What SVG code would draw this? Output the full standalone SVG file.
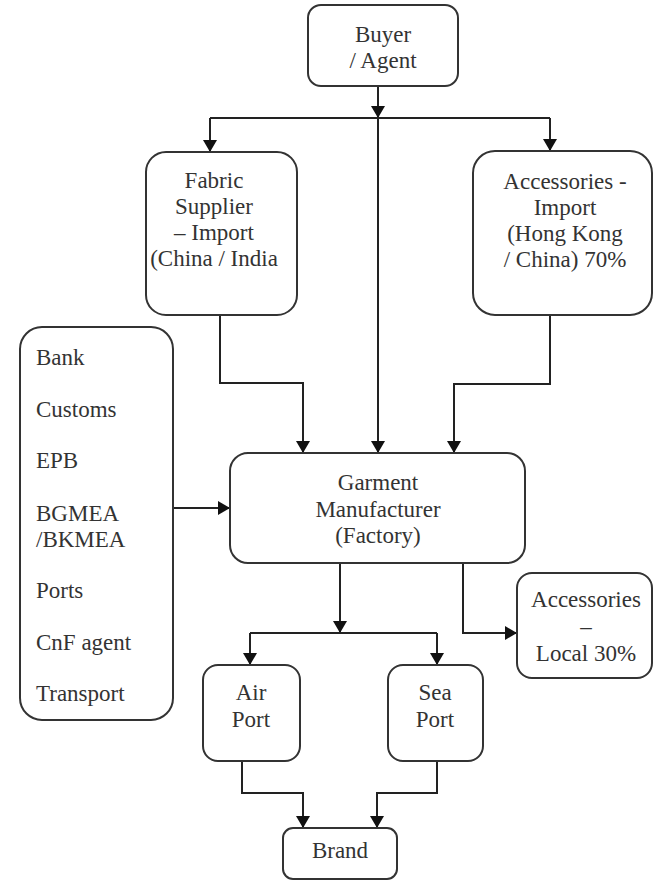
<svg xmlns="http://www.w3.org/2000/svg" width="654" height="882" viewBox="0 0 654 882">
<defs>
<marker id="arr" markerUnits="userSpaceOnUse" markerWidth="12" markerHeight="14" viewBox="0 0 12 14" refX="12" refY="7" orient="auto">
<path d="M0,0 L12,7 L0,14 Z" fill="#111"/>
</marker>
<style>
.box{fill:#fff;stroke:#333;stroke-width:2}
.t{font-family:"Liberation Serif","Times New Roman",serif;font-size:23px;fill:#333;text-anchor:middle}
.l{font-family:"Liberation Serif","Times New Roman",serif;font-size:23px;fill:#333}
.c{fill:none;stroke:#222;stroke-width:2}
</style>
</defs>
<rect width="654" height="882" fill="#fff"/>
<g id="connectors">
<path class="c" d="M378,86 V118" marker-end="url(#arr)"/>
<path class="c" d="M210,118 H550"/>
<path class="c" d="M210,118 V152" marker-end="url(#arr)"/>
<path class="c" d="M550,118 V151" marker-end="url(#arr)"/>
<path class="c" d="M378,118 V453" marker-end="url(#arr)"/>
<path class="c" d="M220,315 V383 H303 V453" marker-end="url(#arr)"/>
<path class="c" d="M550,315 V384 H454 V453" marker-end="url(#arr)"/>
<path class="c" d="M173,508 H230" marker-end="url(#arr)"/>
<path class="c" d="M340,563 V633" marker-end="url(#arr)"/>
<path class="c" d="M250,633 H437"/>
<path class="c" d="M250,633 V665" marker-end="url(#arr)"/>
<path class="c" d="M437,633 V665" marker-end="url(#arr)"/>
<path class="c" d="M463,563 V633 H517" marker-end="url(#arr)"/>
<path class="c" d="M242,761 V793 H303 V828" marker-end="url(#arr)"/>
<path class="c" d="M437,761 V793 H377 V828" marker-end="url(#arr)"/>
</g>
<g id="buyer">
<rect class="box" x="308" y="5" width="150" height="81" rx="13"/>
<text class="t" x="383" y="42">Buyer</text>
<text class="t" x="383" y="68">/ Agent</text>
</g>
<g id="fabric">
<rect class="box" x="146" y="152" width="151" height="163" rx="20"/>
<text class="t" x="214" y="188">Fabric</text>
<text class="t" x="214" y="214">Supplier</text>
<text class="t" x="214" y="240">– Import</text>
<text class="t" x="214" y="266">(China / India</text>
</g>
<g id="acc-import">
<rect class="box" x="473" y="151" width="179" height="164" rx="22"/>
<text class="t" x="565" y="189">Accessories -</text>
<text class="t" x="565" y="215">Import</text>
<text class="t" x="565" y="241">(Hong Kong</text>
<text class="t" x="565" y="267">/ China) 70%</text>
</g>
<g id="agencies">
<rect class="box" x="20" y="327" width="153" height="393" rx="22"/>
<text class="l" x="36" y="365">Bank</text>
<text class="l" x="36" y="417">Customs</text>
<text class="l" x="36" y="468">EPB</text>
<text class="l" x="36" y="521">BGMEA</text>
<text class="l" x="36" y="547">/BKMEA</text>
<text class="l" x="36" y="598">Ports</text>
<text class="l" x="36" y="650">CnF agent</text>
<text class="l" x="36" y="701">Transport</text>
</g>
<g id="garment">
<rect class="box" x="230" y="453" width="295" height="110" rx="18"/>
<text class="t" x="378" y="490">Garment</text>
<text class="t" x="378" y="517">Manufacturer</text>
<text class="t" x="378" y="543">(Factory)</text>
</g>
<g id="acc-local">
<rect class="box" x="517" y="573" width="135" height="105" rx="15"/>
<text class="t" x="586" y="607">Accessories</text>
<text class="t" x="586" y="634">–</text>
<text class="t" x="586" y="661">Local 30%</text>
</g>
<g id="airport">
<rect class="box" x="203" y="665" width="97" height="96" rx="15"/>
<text class="t" x="251" y="700">Air</text>
<text class="t" x="251" y="727">Port</text>
</g>
<g id="seaport">
<rect class="box" x="388" y="665" width="95" height="96" rx="15"/>
<text class="t" x="435" y="700">Sea</text>
<text class="t" x="435" y="727">Port</text>
</g>
<g id="brand">
<rect class="box" x="283" y="828" width="114" height="51" rx="10"/>
<text class="t" x="340" y="858">Brand</text>
</g>
</svg>
